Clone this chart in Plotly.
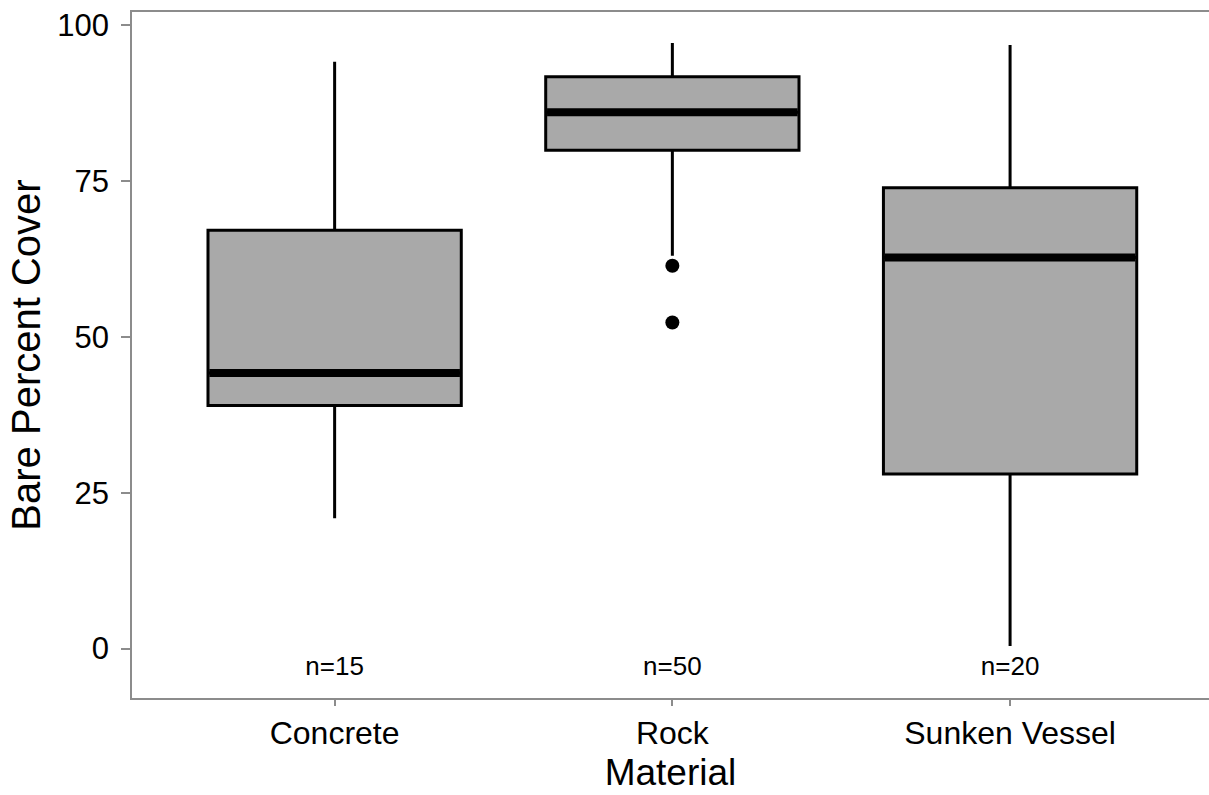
import plotly.graph_objects as go

categories = ["Concrete", "Rock", "Sunken Vessel"]
lower_whisker = [20.9, 63.0, 0.4]
q1 = [39.0, 79.9, 28.0]
median = [44.2, 86.0, 62.7]
q3 = [67.1, 91.7, 73.9]
upper_whisker = [94.1, 97.1, 96.8]
outlier_cat = [1, 1]
outlier_val = [61.4, 52.3]
n_labels = ["n=15", "n=50", "n=20"]
n_label_y = [-3.2, -3.2, -3.2]

xpos = list(range(len(categories)))
FONT = "Liberation Sans, Arial, sans-serif"
BOXW = 0.75

fig = go.Figure()
fig.add_trace(go.Box(
    x=xpos, q1=q1, median=median, q3=q3,
    lowerfence=lower_whisker, upperfence=upper_whisker,
    width=BOXW, whiskerwidth=0, boxpoints=False,
    fillcolor="#a9a9a9", line=dict(color="black", width=3),
    showlegend=False, hoverinfo="skip",
))
# thick median lines
for i, m in zip(xpos, median):
    fig.add_trace(go.Scatter(
        x=[i - BOXW / 2 + 0.004, i + BOXW / 2 - 0.004], y=[m, m], mode="lines",
        line=dict(color="black", width=8), showlegend=False, hoverinfo="skip",
    ))
fig.add_trace(go.Scatter(
    x=outlier_cat, y=outlier_val, mode="markers",
    marker=dict(color="black", size=14), showlegend=False,
))
fig.add_trace(go.Scatter(
    x=xpos, y=n_label_y, mode="text", text=n_labels,
    textfont=dict(family=FONT, size=26, color="black"),
    textposition="middle center", showlegend=False,
))

fig.update_layout(
    width=1209, height=795,
    margin=dict(l=132, r=0, t=12, b=97),
    plot_bgcolor="white", paper_bgcolor="white",
    font=dict(family=FONT, color="black"),
    xaxis=dict(
        range=[-0.6, 2.589], tickmode="array", tickvals=xpos, ticktext=categories,
        showgrid=False, zeroline=False,
        showline=True, mirror=True, linecolor="#8c8c8c", linewidth=1.5,
        ticks="outside", ticklen=6, tickcolor="#8c8c8c", tickwidth=1.5,
        tickfont=dict(size=32, color="black"),
        title=dict(text="Material", font=dict(size=37, color="black"), standoff=9),
    ),
    yaxis=dict(
        range=[-7.93, 102.09], tickvals=[0, 25, 50, 75, 100],
        showgrid=False, zeroline=False, mirror=False,
        showline=True, linecolor="#8c8c8c", linewidth=1.5,
        ticks="outside", ticklen=9, tickcolor="#8c8c8c", tickwidth=1.5,
        ticklabelstandoff=6,
        tickfont=dict(size=31, color="black"),
        title=dict(text="Bare Percent Cover", font=dict(size=40, color="black"), standoff=4),
    ),
)

fig.write_html("out.html")
